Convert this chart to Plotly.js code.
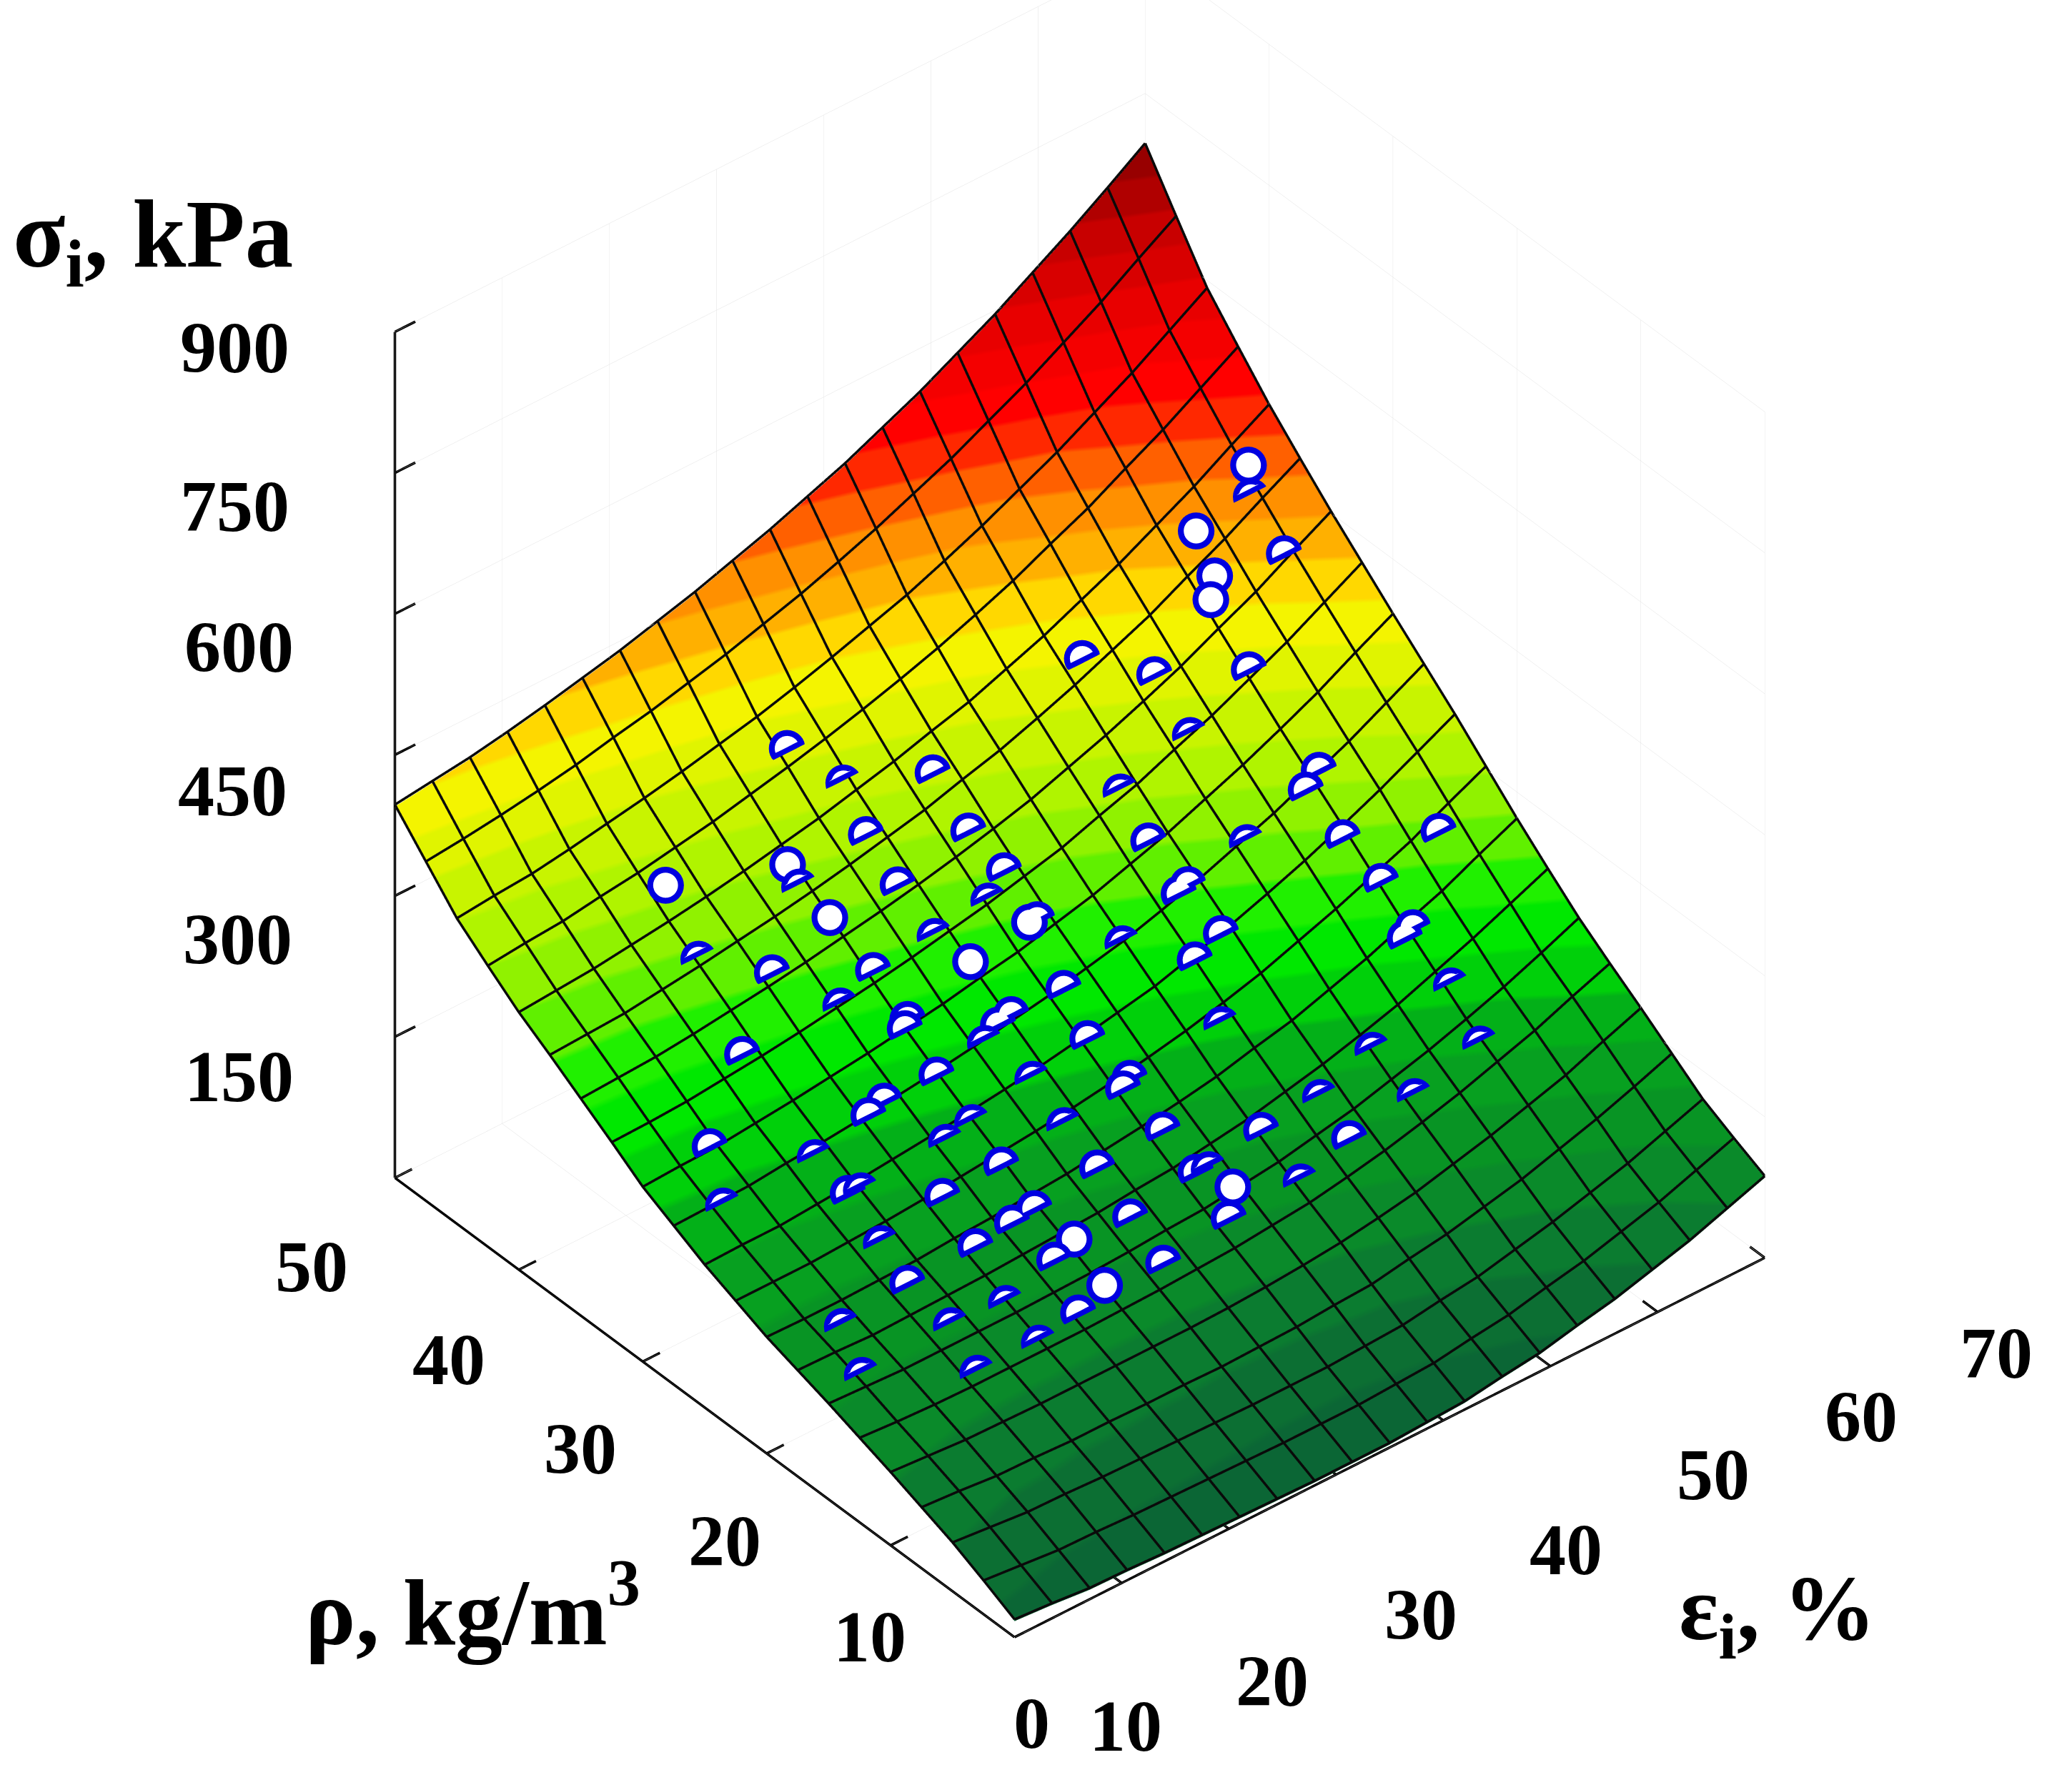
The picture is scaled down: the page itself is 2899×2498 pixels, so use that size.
<!DOCTYPE html>
<html><head><meta charset="utf-8">
<script src="https://cdn.plot.ly/plotly-3.0.1.min.js"></script>
<style>html,body{margin:0;padding:0;background:#fff}#p{width:2899px;height:2498px}</style></head>
<body><div id="p"></div>
<script>
const ea=[17,50,76,100,122,150,184,229,272,323,395],eb=[85,118,166,213,270,332,390,450,515,590,695],ef=[17,10,7,5,3,3,7,18,35,57,85],eg=[395,405,420,438,460,486,516,552,594,642,695];
const li=(arr,t)=>{const p=Math.min(9.9999,t*10),i=Math.floor(p),s=p-i;return arr[i]*(1-s)+arr[i+1]*s;};
const epsGrid=[],rhoGrid=[];for(let i=0;i<=20;i++){epsGrid.push(i*3.5);rhoGrid.push(i*2.5);}
const sigmaGrid=rhoGrid.map((r,j)=>epsGrid.map((e,i)=>{const u=i/20,v=j/20;return Math.round((1-v)*li(ef,u)+v*li(eg,u)+(1-u)*li(ea,v)+u*li(eb,v)-((1-u)*(1-v)*17+u*(1-v)*85+(1-u)*v*395+u*v*695));}));
const pick=[[947,351,'F'],[949,368,'S'],[907,401,'F'],[921,435,'F'],[918,453,'F'],[974,414,'H'],[947,502,'H'],[820,494,'H'],[875,506,'H'],[902,549,'S'],[595,563,'H'],[638,586,'S'],[706,581,'H'],[849,592,'S'],[1000,578,'H'],[990,593,'H'],[655,628,'H'],[733,625,'H'],[1018,629,'H'],[1091,624,'H'],[870,632,'H'],[945,630,'S'],[502,671,'F'],[595,655,'F'],[604,665,'S'],[679,666,'H'],[760,655,'H'],[748,675,'S'],[900,665,'H'],[893,672,'H'],[1047,662,'H'],[627,695,'F'],[527,720,'S'],[707,702,'S'],[779,698,'F'],[785,692,'H'],[925,702,'H'],[583,733,'H'],[660,731,'H'],[734,728,'F'],[850,707,'S'],[905,722,'H'],[1065,705,'H'],[1071,697,'H'],[635,755,'S'],[805,744,'H'],[1100,738,'S'],[686,768,'H'],[684,775,'H'],[765,764,'H'],[755,772,'H'],[745,783,'S'],[823,782,'H'],[560,795,'H'],[925,768,'S'],[1122,782,'S'],[781,810,'S'],[708,810,'H'],[1040,787,'S'],[855,812,'H'],[850,820,'H'],[1000,823,'S'],[656,841,'H'],[668,830,'H'],[735,843,'S'],[805,845,'S'],[880,851,'H'],[535,865,'H'],[615,870,'S'],[955,851,'H'],[1022,857,'H'],[1072,822,'S'],[757,878,'H'],[830,880,'H'],[715,858,'S'],[905,883,'H'],[915,878,'S'],[640,900,'H'],[650,895,'S'],[545,907,'S'],[712,902,'H'],[933,898,'F'],[930,918,'H'],[782,911,'H'],[765,922,'H'],[737,940,'H'],[855,917,'H'],[985,887,'S'],[812,938,'F'],[797,950,'H'],[665,935,'S'],[880,952,'H'],[835,973,'F'],[815,990,'H'],[685,968,'H'],[760,980,'S'],[635,998,'S'],[718,997,'S'],[785,1010,'S'],[738,1033,'S'],[650,1035,'S']];
function Z(e,r){const a=Math.max(0,Math.min(19.999,e/3.5)),b=Math.max(0,Math.min(19.999,r/2.5));const i=Math.floor(a),j=Math.floor(b),s=a-i,t=b-j;return (1-s)*(1-t)*sigmaGrid[j][i]+s*(1-t)*sigmaGrid[j][i+1]+(1-s)*t*sigmaGrid[j+1][i]+s*t*sigmaGrid[j+1][i+1];}
const DY={F:0,H:4,S:7};
const pe=[],pr=[],ps=[],pk=[];
pick.forEach(([px,py,k])=>{py+=DY[k];let lo=-.1,hi=1.1;const f=v=>{const u=(px-765+469*v)/573;return 1240-290*u-347*v-.711*Z(u*70,v*50)-py;};
 for(let n=0;n<40;n++){const m=(lo+hi)/2;if(f(m)>0)lo=m;else hi=m;}const v=(lo+hi)/2,u=(px-765+469*v)/573;pe.push(u*70);pr.push(v*50);ps.push(Z(u*70,v*50));pk.push(k);});
const bandColors=['#0b6635','#0c6f33','#0b7c30','#0a8a2a','#089424','#07a020','#03b018','#00d00a','#00e800','#20f000','#60f000','#90f200','#b0f400','#c8f400','#e0f400','#f4f400','#ffd800','#ffb000','#ff9000','#ff6000','#ff2800','#ff0000','#f40000','#e80000','#d80000','#c80000','#b00000','#980000'];
const bandStep=25;
const cs=[];bandColors.forEach((c,i)=>{cs.push([i/bandColors.length,c]);cs.push([(i+1)/bandColors.length,c]);});
const surf={type:'surface',x:epsGrid,y:rhoGrid,z:sigmaGrid,colorscale:cs,cmin:0,cmax:bandColors.length*bandStep,showscale:false,hoverinfo:'skip',
 lighting:{ambient:1,diffuse:0,specular:0,roughness:1,fresnel:0},
 contours:{x:{highlight:false},y:{highlight:false},z:{highlight:false}}};
const mx=[],my=[],mz=[];
const lift=2;
epsGrid.forEach((e,i)=>{rhoGrid.forEach((r,j)=>{mx.push(e);my.push(r);mz.push(sigmaGrid[j][i]+lift);});mx.push(null);my.push(null);mz.push(null);});
rhoGrid.forEach((r,j)=>{epsGrid.forEach((e,i)=>{mx.push(e);my.push(r);mz.push(sigmaGrid[j][i]+lift);});mx.push(null);my.push(null);mz.push(null);});
const mesh={type:'scatter3d',mode:'lines',x:mx,y:my,z:mz,line:{color:'#0a0a0a',width:7},hoverinfo:'skip',connectgaps:false};
const epsTicks=[0,10,20,30,40,50,60,70],rhoTicks=[10,20,30,40,50],sigmaTicks=[150,300,450,600,750,900];
const ex=[0,70,null,0,0,null,0,0],ey=[0,0,null,0,50,null,50,50],ez=[0,0,null,0,0,null,0,900];
epsTicks.forEach(t=>{ex.push(null,t,t);ey.push(null,0,1.2);ez.push(null,0,0);});
rhoTicks.forEach(t=>{ex.push(null,0,1.6);ey.push(null,t,t);ez.push(null,0,0);});
sigmaTicks.forEach(t=>{ex.push(null,0,1.9);ey.push(null,50,50);ez.push(null,t,t);});
const axesT={type:'scatter3d',mode:'lines',x:ex,y:ey,z:ez,line:{color:'#000',width:7},hoverinfo:'skip',connectgaps:false};
function discs(R,chordAdd,t,color){
 const X=[],Y=[],W=[],I=[],J=[],K_=[];
 const nx=-290/646,ny=-573/646;
 const M=32;
 pe.forEach((e,idx)=>{
  const k=pk[idx];const c=(k==='F'?-99:k==='H'?0:5)+chordAdd;
  const vert=(sx,sy)=>{const de=sx*70/573;const ds=(-sy-290/70*de)/.711;X.push(e+de-.503*t*70);Y.push(pr[idx]-.609*t*50);W.push(ps[idx]+ds+.558*t*900);};
  const base=X.length;
  const mid=Math.max(c,-R);const m=(mid+R)/2; vert(nx*m,ny*m);
  for(let a=0;a<M;a++){const th=a/M*2*Math.PI;let sx=R*Math.cos(th),sy=R*Math.sin(th);const d=sx*nx+sy*ny;if(d<c){sx+=nx*(c-d);sy+=ny*(c-d);}vert(sx,sy);}
  for(let a=0;a<M;a++){I.push(base);J.push(base+1+a);K_.push(base+1+(a+1)%M);}
 });
 return {type:'mesh3d',x:X,y:Y,z:W,i:I,j:J,k:K_,color,flatshading:true,lighting:{ambient:1,diffuse:0,specular:0,roughness:1,fresnel:0},hoverinfo:'skip',showscale:false};
}
const blue=discs(14,-3,.05,'#0000e0'),white=discs(9.5,1,.056,'#ffffff');
const sigmaShift=[[-118,30],[-119,33],[-123,27],[-118,25],[-121,25],[-121,12]];
const rhoShift=[[-16,69],[-32,66],[-47,66],[-53,68],[-63,67]];
const epsShift=[[13,65],[3,108],[33,115],[64,106],[93,98],[123,82],[154,79],[175,72]];
const K=1.849,tf={family:'Liberation Serif',size:102,color:'#000',weight:700};
const sa=[];
const lab=(x,y,z,t,s)=>sa.push({x,y,z,text:String(t),showarrow:false,xanchor:'center',yanchor:'middle',xshift:s[0]*K,yshift:-s[1]*K,font:tf});
epsTicks.forEach((t,i)=>lab(t,0,0,t,epsShift[i]));
rhoTicks.forEach((t,i)=>lab(0,t,0,t,rhoShift[i]));
sigmaTicks.forEach((t,i)=>lab(0,50,t,t,sigmaShift[i]));
const tt=(t,x,y,s)=>({text:t,xref:'paper',yref:'paper',x:x/1568,y:1-y/1351,showarrow:false,xanchor:'center',yanchor:'middle',font:{family:'Liberation Serif',size:s,color:'#000',weight:700}});
const ax=(r,d)=>({range:r,tick0:0,dtick:d,autorange:false,showgrid:true,gridcolor:'#e2e2e2',gridwidth:1,showline:false,ticks:'',showticklabels:false,title:{text:''},zeroline:false,showbackground:false,showspikes:false});
const D=2.5,A=1.09,C={x:-.0637,y:0,z:-.107};
const layout={width:2899,height:2498,margin:{l:0,r:0,t:0,b:0},paper_bgcolor:'#fff',showlegend:false,
 annotations:[tt('σ<sub>i</sub>, kPa',116,182,135),tt('ρ, kg/m<sup>3</sup>',358,1215,132),tt('ε<sub>i</sub>, %',1345,1222,130)],
 scene:{domain:{x:[0,1],y:[0,1]},xaxis:ax([0,70],10),yaxis:ax([0,50],10),zaxis:ax([0,900],150),aspectmode:'manual',aspectratio:{x:A,y:A,z:1.1*A},annotations:sa,
 camera:{eye:{x:-.503*D+C.x,y:-.609*D+C.y,z:.612*D+C.z},center:C,up:{x:0,y:0,z:1},projection:{type:'orthographic'}}}};
Plotly.newPlot('p',[surf,mesh,axesT,blue,white],layout,{displayModeBar:false});
</script></body></html>
